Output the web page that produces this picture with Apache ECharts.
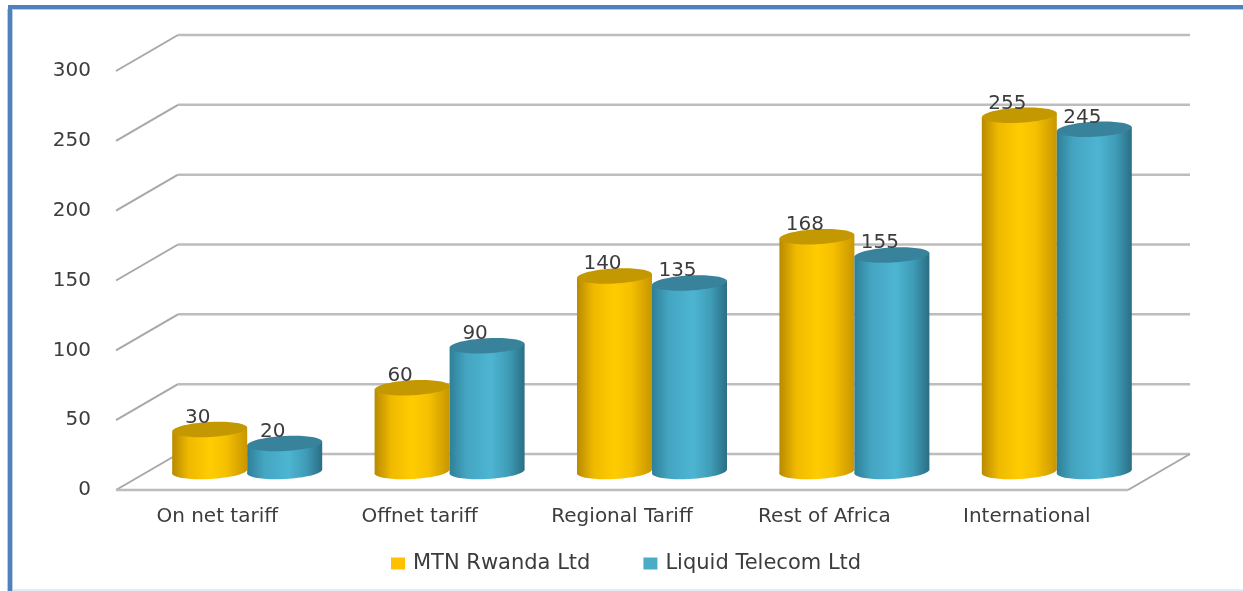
<!DOCTYPE html>
<html>
<head>
<meta charset="utf-8">
<style>html,body{margin:0;padding:0;background:#fff}#c{width:1243px;height:591px}</style>
<script src="https://cdn.jsdelivr.net/npm/echarts@6/dist/echarts.min.js"></script>
</head>
<body>
<div id="c"></div>
<script>
const categories = ['On net tariff', 'Offnet tariff', 'Regional Tariff', 'Rest of Africa', 'International'];
const mtnValues = [30, 60, 140, 168, 255];
const liquidValues = [20, 90, 135, 155, 245];
const yTicks = [0, 50, 100, 150, 200, 250, 300];
const seriesNames = ['MTN Rwanda Ltd', 'Liquid Telecom Ltd'];

const FONT = '"DejaVu Sans"';
const TEXT = '#3c3c3c';
const DX = 62, DY = -36;      // depth of the 3D box
const MIDX = 30, MIDY = -18.5;  // bars stand half way in
const RX = 37.5, RY = 7.5, TILT = 2;

const chart = echarts.init(document.getElementById('c'));

function wall(params, api) {
  const cs = params.coordSys;
  const y = api.coord([0, api.value(1)])[1];
  const x0 = cs.x, x1 = cs.x + cs.width;
  const diag = {stroke: '#a8a8a8', lineWidth: 2};
  const flat = {stroke: '#bdbdbd', lineWidth: 2.5};
  const kids = [
    {type: 'line', shape: {x1: x0, y1: y, x2: x0 + DX, y2: y + DY}, style: diag},
    {type: 'line', shape: {x1: x0 + DX, y1: y + DY, x2: x1 + DX, y2: y + DY}, style: flat}
  ];
  if (api.value(1) === 0) {
    kids.push({type: 'line', shape: {x1: x1, y1: y, x2: x1 + DX, y2: y + DY}, style: diag});
    kids.push({type: 'line', shape: {x1: x0, y1: y, x2: x1, y2: y}, style: flat});
  }
  return {type: 'group', children: kids};
}

function cylinder(sign, stops, topColor) {
  return function (params, api) {
    const base = api.coord([api.value(0), 0]);
    const top = api.coord([api.value(0), api.value(1)]);
    const cx = base[0] + MIDX + sign * RX;
    const by = base[1] + MIDY, ty = top[1] + MIDY;
    const grad = new echarts.graphic.LinearGradient(0, 0, 1, 0, stops);
    const rot = Math.atan2(TILT, RX);
    return {type: 'group', children: [
      {type: 'ellipse', shape: {cx: cx, cy: by, rx: RX, ry: RY}, rotation: rot, originX: cx, originY: by, style: {fill: grad}},
      {type: 'polygon', shape: {points: [
        [cx - RX, ty + TILT], [cx + RX, ty - TILT], [cx + RX, by - TILT], [cx - RX, by + TILT]
      ]}, style: {fill: grad}},
      {type: 'ellipse', shape: {cx: cx, cy: ty, rx: RX, ry: RY}, rotation: rot, originX: cx, originY: ty, style: {fill: topColor}},
      {type: 'text', x: cx - 12, y: ty - 12, style: {
        text: String(api.value(1)), fill: TEXT, font: '20px ' + FONT, align: 'center', verticalAlign: 'middle'
      }}
    ]};
  };
}

chart.setOption({
  animation: false,
  backgroundColor: '#ffffff',
  grid: {left: 116, top: 71, width: 1012, height: 419, containLabel: false},
  legend: {
    data: seriesNames, left: 386, top: 548, itemWidth: 14, itemHeight: 12, itemGap: 53,
    icon: 'rect',
    textStyle: {fontFamily: FONT, fontSize: 21, color: TEXT, padding: [0, 0, 0, 3]}
  },
  xAxis: {
    type: 'category', data: categories,
    axisLine: {show: false}, axisTick: {show: false}, splitLine: {show: false},
    axisLabel: {fontFamily: FONT, fontSize: 20, color: TEXT, margin: 17}
  },
  yAxis: {
    type: 'value', min: 0, max: 300, interval: 50,
    axisLine: {show: false}, axisTick: {show: false}, splitLine: {show: false},
    axisLabel: {fontFamily: FONT, fontSize: 20, color: TEXT, margin: 25, padding: [7, 0, 0, 0]}
  },
  graphic: [
    {type: 'rect', silent: true, shape: {x: 8, y: 9, width: 1235, height: 1}, style: {fill: '#b9cde5'}},
    {type: 'rect', silent: true, shape: {x: 7, y: 9, width: 6, height: 582}, style: {fill: '#b9cde5'}},
    {type: 'rect', silent: true, shape: {x: 8, y: 5, width: 1235, height: 4}, style: {fill: '#4f81bd'}},
    {type: 'rect', silent: true, shape: {x: 8, y: 5, width: 4, height: 586}, style: {fill: '#4f81bd'}},
    {type: 'rect', silent: true, shape: {x: 13, y: 589, width: 1230, height: 2}, style: {fill: '#e4edf7'}}
  ],
  series: [
    {type: 'custom', name: 'wall', silent: true, z: 1, renderItem: wall,
     data: yTicks.map(v => [0, v]), encode: {x: 0, y: 1}},
    {type: 'custom', name: seriesNames[0], z: 2, itemStyle: {color: '#ffc000'},
     renderItem: cylinder(-1, [
       {offset: 0, color: '#b88a00'}, {offset: 0.22, color: '#efb900'}, {offset: 0.5, color: '#ffcc00'},
       {offset: 0.72, color: '#f5c000'}, {offset: 1, color: '#c89600'}
     ], '#c49800'),
     data: mtnValues.map((v, i) => [i, v]), encode: {x: 0, y: 1}},
    {type: 'custom', name: seriesNames[1], z: 3, itemStyle: {color: '#4bacc6'},
     renderItem: cylinder(1, [
       {offset: 0, color: '#2f7f98'}, {offset: 0.22, color: '#44a5c1'}, {offset: 0.55, color: '#4db5d2'},
       {offset: 0.78, color: '#3f9db8'}, {offset: 1, color: '#2a6e84'}
     ], '#38839b'),
     data: liquidValues.map((v, i) => [i, v]), encode: {x: 0, y: 1}}
  ]
});
</script>
</body>
</html>
